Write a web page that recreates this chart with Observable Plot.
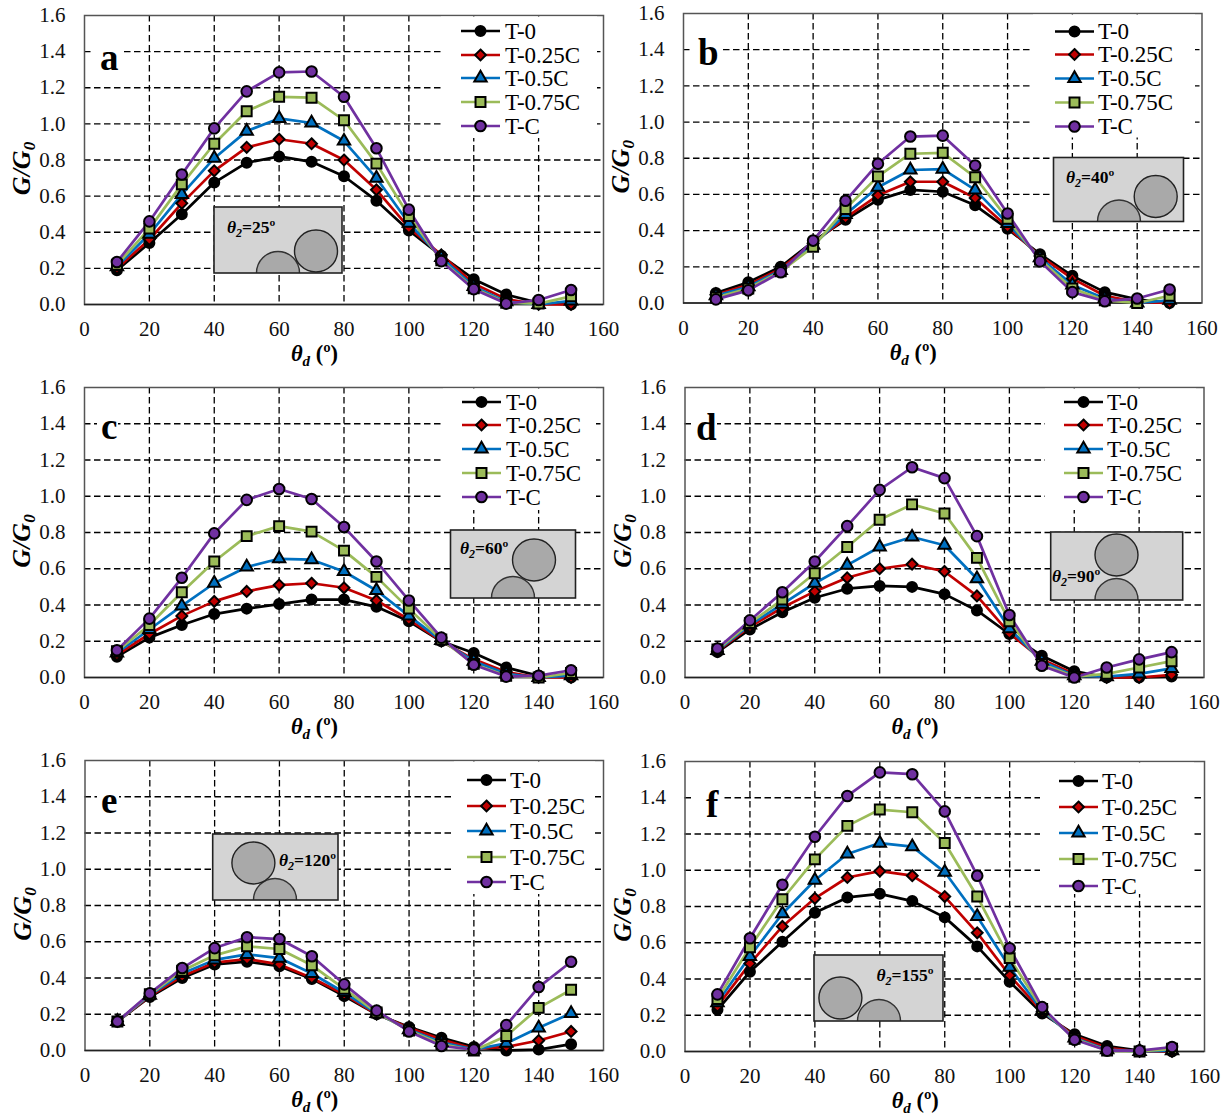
<!DOCTYPE html>
<html>
<head>
<meta charset="utf-8">
<script src="https://cdn.jsdelivr.net/npm/d3@7"></script>
<script src="https://cdn.jsdelivr.net/npm/@observablehq/plot@0.6"></script>
<style>
html,body{margin:0;padding:0;background:#fff}
#page{position:relative;width:1228px;height:1116px;overflow:hidden}
#page svg{position:absolute}
</style>
</head>
<body>
<div id="page"></div>
<script>
// ---------- Data ----------
const thetaD = [10,20,30,40,50,60,70,80,90,100,110,120,130,140,150];
const seriesNames = ["T-0","T-0.25C","T-0.5C","T-0.75C","T-C"];
const seriesColors = ["#000000","#c00000","#0070c0","#9bbb59","#7030a0"];
const xTicks = [0,20,40,60,80,100,120,140,160];
const yTicks = [0,0.2,0.4,0.6,0.8,1.0,1.2,1.4,1.6];

const a_T0   = [.19,.34,.50,.675,.785,.82,.79,.71,.575,.41,.27,.14,.055,.01,0];
const a_T25  = [.20,.36,.56,.74,.87,.915,.89,.80,.635,.425,.275,.115,.03,0,0];
const a_T50  = [.21,.39,.61,.81,.96,1.03,1.005,.905,.70,.45,.26,.10,.015,0,.02];
const a_T75  = [.22,.42,.665,.89,1.07,1.15,1.145,1.02,.78,.49,.245,.09,.01,.005,.045];
const a_TC   = [.235,.46,.72,.975,1.18,1.285,1.29,1.15,.865,.525,.24,.085,.005,.025,.08];

const b_T0   = [.055,.115,.20,.34,.46,.57,.625,.615,.54,.41,.27,.15,.06,.02,0];
const b_T25  = [.045,.10,.19,.33,.47,.595,.67,.67,.58,.42,.26,.135,.04,.005,0];
const b_T50  = [.04,.09,.18,.32,.49,.64,.735,.74,.625,.44,.25,.10,.025,0,.015];
const b_T75  = [.03,.08,.175,.31,.52,.70,.825,.83,.695,.465,.24,.08,.015,0,.04];
const b_TC   = [.02,.07,.17,.345,.565,.77,.92,.925,.76,.495,.23,.06,.01,.025,.075];

const c_T0   = [.115,.22,.29,.35,.38,.405,.43,.43,.39,.31,.20,.135,.055,.01,0];
const c_T25  = [.125,.24,.34,.42,.475,.51,.52,.495,.425,.32,.20,.10,.03,0,0];
const c_T50  = [.135,.265,.395,.52,.61,.655,.65,.585,.48,.34,.205,.09,.02,0,.01];
const c_T75  = [.145,.29,.47,.64,.78,.835,.805,.70,.555,.38,.21,.075,.01,0,.025];
const c_TC   = [.15,.325,.55,.795,.98,1.04,.985,.83,.64,.425,.22,.07,.005,.01,.04];

const d_T0   = [.14,.265,.36,.44,.49,.505,.50,.46,.37,.24,.12,.035,0,0,.005];
const d_T25  = [.145,.28,.385,.475,.55,.60,.625,.585,.45,.245,.10,.02,0,0,.015];
const d_T50  = [.15,.29,.405,.52,.62,.72,.775,.73,.545,.27,.09,.01,.005,.02,.05];
const d_T75  = [.155,.30,.43,.575,.72,.87,.955,.905,.66,.31,.075,.005,.02,.055,.09];
const d_TC   = [.16,.315,.47,.64,.835,1.035,1.16,1.10,.78,.345,.065,0,.055,.10,.14];

const e_T0   = [.16,.295,.40,.475,.49,.465,.395,.30,.20,.13,.07,.02,0,.005,.035];
const e_T25  = [.16,.30,.41,.485,.505,.475,.40,.31,.20,.125,.06,.01,.02,.055,.105];
const e_T50  = [.16,.305,.425,.50,.53,.51,.425,.32,.205,.115,.045,.005,.04,.125,.205];
const e_T75  = [.16,.31,.44,.525,.575,.56,.47,.34,.21,.11,.035,0,.08,.235,.335];
const e_TC   = [.16,.315,.455,.565,.625,.615,.52,.365,.22,.105,.025,.005,.14,.35,.49];

const f_T0   = [.23,.44,.605,.765,.85,.87,.83,.74,.58,.385,.21,.095,.03,.005,0];
const f_T25  = [.25,.485,.69,.845,.96,.995,.97,.855,.655,.42,.22,.085,.02,0,0];
const f_T50  = [.27,.525,.76,.945,1.09,1.15,1.13,.99,.745,.465,.225,.075,.01,0,.005];
const f_T75  = [.29,.575,.84,1.06,1.245,1.335,1.32,1.15,.855,.515,.235,.07,.005,0,.015];
const f_TC   = [.315,.625,.92,1.185,1.41,1.54,1.53,1.325,.97,.57,.245,.065,.005,.005,.025];

// ---------- Layout (page pixels) ----------
const SERIF = "'Liberation Serif','Times New Roman',serif";
const symbols = ["circle","diamond2","triangle","square","circle"];
const radii   = [5.0,4.9,4.6,5.6,5.3];
const legendSymbols = [d3.symbolCircle,d3.symbolDiamond2,d3.symbolTriangle,d3.symbolSquare,d3.symbolCircle];

const panels = [
 {id:"a",series:[a_T0,a_T25,a_T50,a_T75,a_TC],angle:"25",x0:84,x1:603,top:15,bottom:304,
  letter:{x:100,y:70,bx:[91,122],by:[33,76]},
  legend:{lx:[461,500],tx:505,rows:[31,55,78,102,126],box:[441,16.5,597,138]},
  inset:{box:[214,207,342,273],label:[227,233],circle:[316,251],half:[278,273]}},
 {id:"b",series:[b_T0,b_T25,b_T50,b_T75,b_TC],angle:"40",x0:683,x1:1201.5,top:12.5,bottom:302,
  letter:{x:698,y:64,bx:[690,723],by:[30,74]},
  legend:{lx:[1055,1094],tx:1098,rows:[31,54,78,102,126],box:[1033,14,1195,137]},
  inset:{box:[1053.5,157,1183.5,221],label:[1066,182],circle:[1155.7,196],half:[1119,221]}},
 {id:"c",series:[c_T0,c_T25,c_T50,c_T75,c_TC],angle:"60",x0:84,x1:603,top:387,bottom:677,
  letter:{x:101,y:439,bx:[97,118],by:[405,450]},
  legend:{lx:[462,501],tx:506,rows:[402,425,449,473,497],box:[443,388.5,596,510]},
  inset:{box:[450.5,530,575.5,598],label:[460,554],circle:[534,560],half:[513,598]}},
 {id:"d",series:[d_T0,d_T25,d_T50,d_T75,d_TC],angle:"90",x0:684.5,x1:1203.5,top:387,bottom:677,
  letter:{x:696,y:440,bx:[692,717],by:[405,450]},
  legend:{lx:[1064,1103],tx:1107,rows:[402,425,449,473,497],box:[1045,388.5,1196,510]},
  inset:{box:[1050.7,532,1182.7,600],label:[1052,582],circle:[1116.5,555],half:[1116.5,600]}},
 {id:"e",series:[e_T0,e_T25,e_T50,e_T75,e_TC],angle:"120",x0:84.5,x1:603,top:760,bottom:1050,
  letter:{x:101,y:813,bx:[97,119],by:[780,825]},
  legend:{lx:[467,506],tx:510,rows:[780,806,831,857,882],box:[454,761.5,595,894]},
  inset:{box:[212.7,834,338,900],label:[279,866],circle:[253.4,863],half:[275,900]}},
 {id:"f",series:[f_T0,f_T25,f_T50,f_T75,f_TC],angle:"155",x0:684.5,x1:1204,top:761,bottom:1051,
  letter:{x:706,y:817,bx:[692,723],by:[785,830]},
  legend:{lx:[1059,1098],tx:1102,rows:[781,807,833,859,886],box:[1040,762.5,1194,894]},
  inset:{box:[814,955,943,1021],label:[876.4,981],circle:[840.4,998],half:[879,1021]}}
];

// ---------- Helpers ----------
function rich(g, parts, attrs){
  const t = g.append("text").attr("font-family",SERIF).attr("fill","#000").attr("text-anchor","start");
  Object.entries(attrs).forEach(([k,v])=>t.attr(k,v));
  let shift = 0;
  parts.forEach(p=>{
    const s = t.append("tspan").text(p.t);
    if(p.italic) s.attr("font-style","italic");
    if(p.bold!==false) s.attr("font-weight","bold");
    const target = p.sub ? p.sub : 0;
    if(target!==shift){ s.attr("dy",target-shift); shift=target; }
    if(p.size) s.attr("font-size",p.size);
  });
  return t;
}

const page = document.getElementById("page");

panels.forEach(p=>{
  const left = p.x0 < 300 ? 0 : 608;
  const W = p.x0 < 300 ? 606 : 620;
  const topOffset = p.top - 12;
  const H = p.bottom - p.top + 66;

  const rows = thetaD.flatMap((t,i)=>p.series.map((vals,s)=>({t,g:vals[i],s})));

  const marks = [
    Plot.gridX(xTicks.slice(1,-1),{stroke:"#000",strokeOpacity:1,strokeWidth:1.3,strokeDasharray:"6.5,3.5"}),
    Plot.gridY(yTicks.slice(1,-1),{stroke:"#000",strokeOpacity:1,strokeWidth:1.3,strokeDasharray:"6.5,3.5"}),
    Plot.frame({stroke:"#555",strokeWidth:1.5}),
    Plot.ruleY([0],{stroke:"#222",strokeWidth:1.5}),
    Plot.axisX(xTicks,{tickSize:0,tickPadding:17,fontSize:21,fontFamily:SERIF,fill:"#111",label:null,tickFormat:d3.format("d")}),
    Plot.axisY(yTicks,{tickSize:0,tickPadding:19,fontSize:21,fontFamily:SERIF,fill:"#111",label:null,tickFormat:d3.format(".1f")})
  ];
  seriesNames.forEach((name,s)=>{
    const data = rows.filter(d=>d.s===s);
    marks.push(Plot.line(data,{x:"t",y:"g",stroke:seriesColors[s],strokeWidth:2.7}));
  });
  seriesNames.forEach((name,s)=>{
    const data = rows.filter(d=>d.s===s);
    marks.push(Plot.dot(data,{x:"t",y:"g",symbol:()=>symbols[s],r:radii[s],fill:seriesColors[s],stroke:"#000",strokeWidth:2}));
  });

  const svg = Plot.plot({
    width:W,height:H,
    marginLeft:p.x0-left,marginRight:W-(p.x1-left),marginTop:12,marginBottom:H-12-(p.bottom-p.top),
    style:{background:"transparent",overflow:"visible",maxWidth:"none"},
    x:{domain:[0,160]},y:{domain:[0,1.6]},
    symbol:{type:"identity"},
    marks
  });
  svg.style.left = left+"px";
  svg.style.top = topOffset+"px";
  page.appendChild(svg);

  // page-pixel overlay group, drawn inside the plot's SVG
  const G = d3.select(svg).append("g").attr("transform",`translate(${-left},${-topOffset})`);

  // axis titles
  const cx = (p.x0+p.x1)/2 - 29;
  rich(G,[{t:"θ",italic:true},{t:"d",italic:true,sub:5,size:15},{t:" (º)",bold:true}],
    {x:cx,y:p.bottom+57,"text-anchor":"middle","font-size":22.5});
  const ly = (p.top+p.bottom)/2 + 9;
  const lx = p.x0-54;
  rich(G,[{t:"G/G",italic:true},{t:"0",italic:true,sub:5,size:17}],
    {transform:`translate(${lx},${ly}) rotate(-90)`,"text-anchor":"middle","font-size":26});

  // panel letter
  const L = p.letter;
  G.append("rect").attr("x",L.bx[0]).attr("y",L.by[0]).attr("width",L.bx[1]-L.bx[0]).attr("height",L.by[1]-L.by[0]).attr("fill","#fff");
  rich(G,[{t:p.id}],{x:L.x,y:L.y,"font-size":37});

  // legend
  const Lg = p.legend;
  G.append("rect").attr("x",Lg.box[0]).attr("y",Lg.box[1]).attr("width",Lg.box[2]-Lg.box[0]).attr("height",Lg.box[3]-Lg.box[1]).attr("fill","#fff");
  seriesNames.forEach((name,s)=>{
    const y = Lg.rows[s], mx=(Lg.lx[0]+Lg.lx[1])/2;
    G.append("line").attr("x1",Lg.lx[0]).attr("x2",Lg.lx[1]).attr("y1",y).attr("y2",y)
      .attr("stroke",seriesColors[s]).attr("stroke-width",2.7);
    G.append("path").attr("transform",`translate(${mx},${y})`)
      .attr("d",d3.symbol(legendSymbols[s],Math.PI*radii[s]*radii[s])())
      .attr("fill",seriesColors[s]).attr("stroke","#000").attr("stroke-width",2);
    rich(G,[{t:name,bold:false}],{x:Lg.tx,y:y+7.5,"font-size":23});
  });

  // inset schematic
  const I = p.inset, [bx0,by0,bx1,by1]=I.box;
  const clipId = "clip-"+p.id;
  G.append("clipPath").attr("id",clipId).append("rect").attr("x",bx0).attr("y",by0).attr("width",bx1-bx0).attr("height",by1-by0);
  G.append("rect").attr("x",bx0).attr("y",by0).attr("width",bx1-bx0).attr("height",by1-by0).attr("fill","#d4d4d4");
  const gi = G.append("g").attr("clip-path",`url(#${clipId})`);
  gi.append("ellipse").attr("cx",I.half[0]).attr("cy",I.half[1]).attr("rx",21.5).attr("ry",21.5).attr("fill","#a9a9a9").attr("stroke","#333").attr("stroke-width",1.4);
  gi.append("ellipse").attr("cx",I.circle[0]).attr("cy",I.circle[1]).attr("rx",21.5).attr("ry",21).attr("fill","#a9a9a9").attr("stroke","#222").attr("stroke-width",1.4);
  G.append("rect").attr("x",bx0).attr("y",by0).attr("width",bx1-bx0).attr("height",by1-by0).attr("fill","none").attr("stroke","#222").attr("stroke-width",1.6);
  rich(G,[{t:"θ",italic:true},{t:"2",italic:true,sub:4,size:12},{t:"="+p.angle+"º"}],{x:I.label[0],y:I.label[1],"font-size":17.5});
});
</script>
</body>
</html>
